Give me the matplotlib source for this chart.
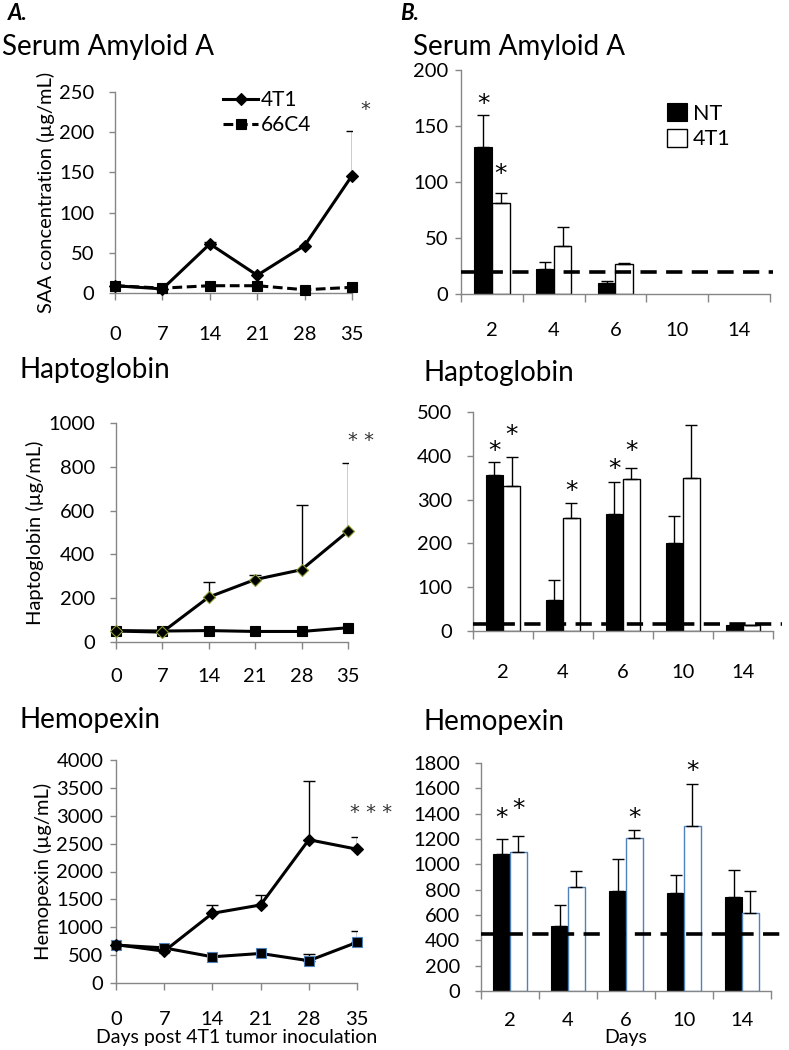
import matplotlib
matplotlib.use("Agg")
import matplotlib.pyplot as plt
import numpy as np

plt.rcParams['font.family'] = ['Lato', 'DejaVu Sans']

# ---------------- data ----------------
days_line = [0, 7, 14, 21, 28, 35]

saa_4t1 = [9, 5, 61, 22, 59, 146]
saa_4t1_err = [0, 0, 3, 0, 0, 55]
saa_66c4 = [9, 6, 9, 9, 4, 7]
saa_66c4_err = [0, 0, 0, 0, 0, 0]

hp_4t1 = [50, 45, 205, 285, 330, 505]
hp_4t1_err = [0, 0, 70, 20, 295, 310]
hp_66c4 = [52, 50, 52, 48, 48, 65]
hp_66c4_err = [0, 0, 0, 0, 0, 0]

hx_4t1 = [690, 570, 1250, 1400, 2570, 2400]
hx_4t1_err = [0, 0, 150, 170, 1060, 210]
hx_66c4 = [680, 630, 470, 530, 400, 730]
hx_66c4_err = [0, 0, 0, 0, 120, 210]

days_bar = ['2', '4', '6', '10', '14']

saa_nt = [131, 22, 10, 0, 0]
saa_nt_err = [29, 7, 2, 0, 0]
saa_t = [81, 43, 27, 0, 0]
saa_t_err = [9, 17, 1, 0, 0]
saa_base = 20

hpb_nt = [357, 72, 267, 200, 14]
hpb_nt_err = [28, 45, 73, 62, 0]
hpb_t = [332, 257, 347, 350, 13]
hpb_t_err = [66, 35, 25, 120, 1]
hpb_base = 15

hxb_nt = [1080, 515, 790, 775, 740]
hxb_nt_err = [120, 165, 255, 140, 215]
hxb_t = [1100, 825, 1205, 1300, 615]
hxb_t_err = [125, 125, 65, 335, 175]
hxb_base = 450

GRAY = '#868686'
TICKFS = 14.5

fig = plt.figure(figsize=(7.89, 10.5), dpi=100)


def style_axes(ax, ypad):
    for s in ['top', 'right']:
        ax.spines[s].set_visible(False)
    for s in ['left', 'bottom']:
        ax.spines[s].set_color(GRAY)
        ax.spines[s].set_linewidth(1.0)
    ax.tick_params(axis='y', direction='out', length=4, width=1, color=GRAY,
                   labelsize=TICKFS, pad=ypad)
    ax.tick_params(axis='x', direction='out', length=5, width=1, color=GRAY,
                   labelsize=TICKFS)


def up_errors(ax, xs, ys, errs):
    xs = np.asarray(xs, dtype=float)
    ys = np.asarray(ys, dtype=float)
    errs = np.asarray(errs, dtype=float)
    m = errs > 0
    if m.any():
        ax.errorbar(xs[m], ys[m], yerr=[np.zeros(m.sum()), errs[m]],
                    fmt='none', ecolor='black', elinewidth=1, capsize=4,
                    capthick=1, zorder=3)


def line_panel(rect, yA, eA, yB, eB, ylim, yticks, ylabel, dashedB, xpad,
               ypad, a_edge='black', b_edge='black', stars=None):
    ax = fig.add_axes(rect)
    style_axes(ax, ypad)
    up_errors(ax, days_line, yA, eA)
    up_errors(ax, days_line, yB, eB)
    ax.plot(days_line, yA, color='black', lw=2.2, marker='D', ms=6.5,
            mfc='black', mec=a_edge, mew=0.8, label='4T1', zorder=4,
            clip_on=False)
    ax.plot(days_line, yB, color='black', lw=2.2, marker='s', ms=7,
            mfc='black', mec=b_edge, mew=0.8,
            linestyle=(0, (3.2, 1.5)) if dashedB else '-', label='66C4',
            zorder=3, clip_on=False)
    ax.set_xlim(0, 35)
    ax.set_xticks(days_line)
    ax.set_ylim(*ylim)
    ax.set_yticks(yticks)
    ax.tick_params(axis='x', pad=xpad)
    ax.set_ylabel(ylabel, fontsize=14.5, labelpad=3)
    if stars:
        x, y, s = stars
        ax.text(x, y, s, ha='center', va='center', fontsize=14,
                color='#333333', family='DejaVu Sans', clip_on=False)
    return ax


def bar_panel(rect, nt, nte, tt, tte, base, ylim, yticks, t_edge, xpad, ypad,
              dash_xmax, stars):
    ax = fig.add_axes(rect)
    style_axes(ax, ypad)
    x = np.arange(len(days_bar))
    w = 0.285
    nt_a = np.asarray(nt, dtype=float)
    tt_a = np.asarray(tt, dtype=float)
    mn = nt_a > 0
    mt = tt_a > 0
    ax.bar((x - w / 2)[mn], nt_a[mn], w, color='black', edgecolor='black',
           lw=0.8, zorder=2, label='NT')
    ax.bar((x + w / 2)[mt], tt_a[mt], w, color='white', edgecolor=t_edge,
           lw=1.0, zorder=2, label='4T1')
    up_errors(ax, x - w / 2, nt, nte)
    up_errors(ax, x + w / 2, tt, tte)
    ax.axhline(base, xmin=0, xmax=dash_xmax, color='black', lw=2.6,
               dashes=(4.5, 2.6), zorder=4, clip_on=False)
    ax.set_xlim(-0.5, len(days_bar) - 0.5)
    ax.set_xticks(x)
    ax.set_xticklabels(days_bar)
    ax.set_xticks(np.arange(-0.5, len(days_bar)), minor=True)
    ax.tick_params(axis='x', which='major', length=0, pad=xpad)
    ax.tick_params(axis='x', which='minor', direction='out', length=6,
                   width=1, color=GRAY)
    ax.set_ylim(*ylim)
    ax.set_yticks(yticks)
    for (i, side, y) in stars:
        xs = i - w / 2 if side == 'nt' else i + w / 2
        ax.text(xs, y, '*', ha='center', va='center', fontsize=18,
                color='black', family='DejaVu Sans', clip_on=False)
    return ax


# ---- A: line panels ----
ax1 = line_panel([0.1458, 0.7210, 0.3004, 0.1914], saa_4t1, saa_4t1_err,
                 saa_66c4, saa_66c4_err, (0, 250), [0, 50, 100, 150, 200, 250],
                 'SAA concentration (µg/mL)', True, 19, 11,
                 stars=(37, 228, '*'))
leg = ax1.legend(loc='upper left', bbox_to_anchor=(0.42, 1.05), frameon=False,
                 fontsize=15, handlelength=1.7, handletextpad=0.1,
                 labelspacing=0.25, borderaxespad=0)

ax2 = line_panel([0.147, 0.3886, 0.294, 0.2086], hp_4t1, hp_4t1_err,
                 hp_66c4, hp_66c4_err, (0, 1000),
                 [0, 200, 400, 600, 800, 1000], 'Haptoglobin (µg/mL)', False,
                 14, 11, a_edge='#8c9a2e', stars=(37, 920, '* *'))

ax3 = line_panel([0.147, 0.0638, 0.3055, 0.2124], hx_4t1, hx_4t1_err,
                 hx_66c4, hx_66c4_err, (0, 4000),
                 list(range(0, 4001, 500)), 'Hemopexin (µg/mL)', False,
                 15, 5, b_edge='#4f81bd', stars=(37, 3050, '* * *'))
ax3.set_xlabel('Days post 4T1 tumor inoculation', fontsize=14, labelpad=1)

# ---- B: bar panels ----
ax4 = bar_panel([0.5843, 0.7200, 0.3916, 0.2133], saa_nt, saa_nt_err, saa_t,
                saa_t_err, saa_base, (0, 200), [0, 50, 100, 150, 200],
                'black', 20, 5, 1.01,
                stars=[(0, 'nt', 170), (0, 't', 107)])
ax4.legend(loc='upper left', bbox_to_anchor=(0.64, 0.89), frameon=False,
           fontsize=15.5, handlelength=0.9, handleheight=0.9,
           handletextpad=0.3, labelspacing=0.25, borderaxespad=0)

ax5 = bar_panel([0.5995, 0.399, 0.380, 0.2086], hpb_nt, hpb_nt_err, hpb_t,
                hpb_t_err, hpb_base, (0, 500), [0, 100, 200, 300, 400, 500],
                'black', 24, 11, 1.03,
                stars=[(0, 'nt', 410), (0, 't', 448), (1, 't', 320),
                       (2, 'nt', 370), (2, 't', 410)])

ax6 = bar_panel([0.6096, 0.0562, 0.3676, 0.217], hxb_nt, hxb_nt_err, hxb_t,
                hxb_t_err, hxb_base, (0, 1800),
                list(range(0, 1801, 200)), '#4f81bd', 15, 11, 1.06,
                stars=[(0, 'nt', 1370), (0, 't', 1440), (2, 't', 1370),
                       (3, 't', 1740)])
ax6.set_xlabel('Days', fontsize=14, labelpad=0)

# ---- headings ----
fig.text(8 / 789, 1 - 14 / 1050, 'A.', fontsize=16, fontweight='bold',
         style='italic', va='center', ha='left')
fig.text(400 / 789, 1 - 14 / 1050, 'B.', fontsize=16, fontweight='bold',
         style='italic', va='center', ha='left')
fig.text(2 / 789, 1 - 47 / 1050, 'Serum Amyloid A', fontsize=20,
         va='center', ha='left')
fig.text(413 / 789, 1 - 47 / 1050, 'Serum Amyloid A', fontsize=20,
         va='center', ha='left')
fig.text(20 / 789, 1 - 370 / 1050, 'Haptoglobin', fontsize=20,
         va='center', ha='left')
fig.text(423 / 789, 1 - 373 / 1050, 'Haptoglobin', fontsize=20,
         va='center', ha='left')
fig.text(20 / 789, 1 - 720 / 1050, 'Hemopexin', fontsize=20,
         va='center', ha='left')
fig.text(423 / 789, 1 - 722 / 1050, 'Hemopexin', fontsize=20,
         va='center', ha='left')

fig.savefig('out.png', dpi=100)
